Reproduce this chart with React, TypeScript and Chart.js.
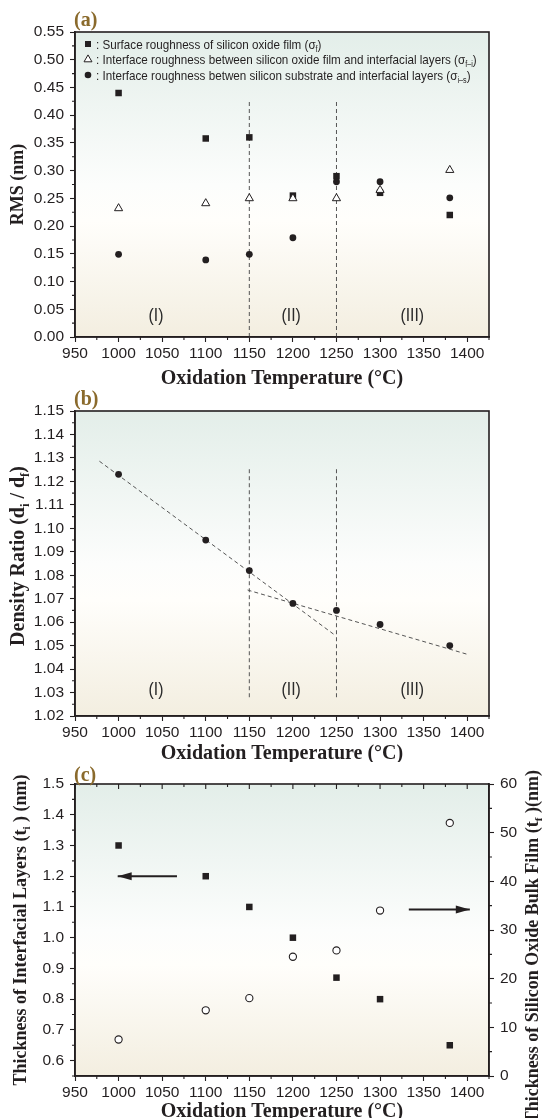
import React, { useEffect, useRef } from 'react';
import { Chart, registerables } from 'chart.js';

Chart.register(...registerables);

// ---------------- data ----------------
const temperatures = [1000, 1100, 1150, 1200, 1250, 1300, 1380];
// panel (a)
const surfaceRoughness = [0.44, 0.358, 0.36, 0.255, 0.29, 0.26, 0.22];
const interfaceRoughnessFI = [0.232, 0.241, 0.25, 0.25, 0.25, 0.265, 0.301];
const interfaceRoughnessIS = [0.149, 0.139, 0.149, 0.179, 0.28, 0.28, 0.251];
// panel (b)
const densityRatio = [1.123, 1.095, 1.082, 1.068, 1.065, 1.059, 1.05];
const fitLowX = [978, 1247];
const fitLowY = [1.1286, 1.0548];
const fitHighX = [1148, 1401];
const fitHighY = [1.0737, 1.0462];
// panel (c)
const interfacialThickness = [1.3, 1.2, 1.1, 1.0, 0.87, 0.8, 0.65];
const bulkThickness = [7.5, 13.5, 16, 24.5, 25.8, 34, 52];
const arrowLeftX = [999, 1067];
const arrowLeftY = 1.2;
const arrowRightX = [1333, 1403];
const arrowRightY = 1.092;
// regions
const regionBoundaries = [1150, 1250];
const boundaryRangeA = [0, 0.425];
const boundaryRangeB = [1.028, 1.126];
const regionNames = ['(I)', '(II)', '(III)'];
const regionCenters = [1043, 1198, 1337];
const regionLabelYA = 0.04;
const regionLabelYB = 1.0315;

type Seg = { t: string; sub?: boolean };
const legendLines: Seg[][] = [
  [{ t: ': Surface roughness of silicon oxide film (σ' }, { t: 'f', sub: true }, { t: ')' }],
  [{ t: ': Interface roughness between silicon oxide film and interfacial layers (σ' }, { t: 'f–i', sub: true }, { t: ')' }],
  [{ t: ': Interface roughness betwen silicon substrate and interfacial layers (σ' }, { t: 'i–s', sub: true }, { t: ')' }],
];
const legendMarkers = ['rect', 'triangle', 'circle'];
const xTitle = 'Oxidation Temperature (°C)';
const yTitleA: Seg[] = [{ t: 'RMS (nm)' }];
const yTitleB: Seg[] = [{ t: 'Density Ratio (d' }, { t: 'i', sub: true }, { t: ' / d' }, { t: 'f', sub: true }, { t: ')' }];
const yTitleC: Seg[] = [{ t: 'Thickness of Interfacial Layers (t' }, { t: 'i', sub: true }, { t: ' ) (nm)' }];
const y2TitleC: Seg[] = [{ t: 'Thickness of Silicon Oxide Bulk Film (t' }, { t: 'f', sub: true }, { t: ' )(nm)' }];

// ---------------- styles ----------------
const INK = '#231f20';
const DASH = '#555555';
const LABEL_BROWN = '#8a6a2c';
const SANS = "'Liberation Sans', Arial, sans-serif";
const SERIF = "'Liberation Serif', 'Times New Roman', serif";
const tickFont = { family: SANS, size: 15.5, lineHeight: 1 };

function drawRich(ctx: CanvasRenderingContext2D, segs: Seg[], x: number, y: number, size: number, family: string, weight: string, align: 'left' | 'center' | 'right', rotation = 0, squeeze = 1, color = INK) {
  ctx.save();
  ctx.translate(x, y);
  ctx.rotate(rotation);
  ctx.scale(squeeze, 1);
  ctx.fillStyle = color;
  ctx.textBaseline = 'alphabetic';
  ctx.textAlign = 'left';
  const subSize = size * 0.62;
  const widths = segs.map((s) => {
    ctx.font = `${weight} ${s.sub ? subSize : size}px ${family}`;
    return ctx.measureText(s.t).width;
  });
  const total = widths.reduce((a, b) => a + b, 0);
  let cx = align === 'left' ? 0 : align === 'center' ? -total / 2 : -total;
  const base = size * 0.34;
  segs.forEach((s, i) => {
    ctx.font = `${weight} ${s.sub ? subSize : size}px ${family}`;
    ctx.fillText(s.t, cx, base + (s.sub ? size * 0.24 : 0));
    cx += widths[i];
  });
  ctx.restore();
}

function minorValues(scale: any): number[] {
  const vals: number[] = scale.ticks.map((t: any) => t.value);
  const out: number[] = [];
  for (let i = 0; i < vals.length - 1; i++) out.push((vals[i] + vals[i + 1]) / 2);
  const step = vals[1] - vals[0];
  const before = vals[0] - step / 2;
  if (before >= scale.min - 1e-9) out.push(before);
  const after = vals[vals.length - 1] + step / 2;
  if (after <= scale.max + 1e-9) out.push(after);
  return out;
}

function drawMarker(ctx: CanvasRenderingContext2D, style: string, x: number, y: number) {
  ctx.save();
  ctx.fillStyle = INK;
  ctx.strokeStyle = INK;
  ctx.lineWidth = 1;
  if (style === 'rect') {
    ctx.fillRect(x - 3, y - 3, 6, 6);
  } else if (style === 'triangle') {
    const r = 4.6;
    ctx.beginPath();
    ctx.moveTo(x, y - r);
    ctx.lineTo(x + r * 0.866, y + r * 0.5);
    ctx.lineTo(x - r * 0.866, y + r * 0.5);
    ctx.closePath();
    ctx.fillStyle = '#fff';
    ctx.fill();
    ctx.stroke();
  } else {
    ctx.beginPath();
    ctx.arc(x, y, 3.3, 0, Math.PI * 2);
    ctx.fill();
  }
  ctx.restore();
}

type Decor = {
  label: string;
  labelLift: number;
  yTitle: Seg[];
  yTitleSize: number;
  yTitleX: number;
  yTitleCenter?: number;
  y2Title?: Seg[];
  regionY?: number;
  legend?: boolean;
  arrows?: boolean;
  topTicks?: boolean;
};

function decorPlugin(d: Decor) {
  return {
    id: 'decor',
    beforeDraw(chart: any) {
      const { ctx, chartArea: a } = chart;
      const g = ctx.createLinearGradient(0, a.top, 0, a.bottom);
      g.addColorStop(0, '#e3eee9');
      g.addColorStop(0.5, '#fcfdfc');
      g.addColorStop(0.62, '#fffefb');
      g.addColorStop(1, '#f3eee0');
      ctx.save();
      ctx.fillStyle = g;
      ctx.fillRect(a.left, a.top, a.right - a.left, a.bottom - a.top);
      ctx.restore();
    },
    afterDraw(chart: any) {
      const { ctx, chartArea: a, scales } = chart;
      const xs = scales.x;
      const ys = scales.y;
      ctx.save();
      // minor ticks
      ctx.strokeStyle = INK;
      ctx.lineWidth = 1.1;
      ctx.beginPath();
      minorValues(xs).forEach((v) => {
        const px = xs.getPixelForValue(v);
        ctx.moveTo(px, a.bottom);
        ctx.lineTo(px, a.bottom + 3);
        if (d.topTicks) {
          ctx.moveTo(px, a.top);
          ctx.lineTo(px, a.top + 3);
        }
      });
      if (d.topTicks) {
        xs.ticks.forEach((t: any) => {
          const px = xs.getPixelForValue(t.value);
          ctx.moveTo(px, a.top);
          ctx.lineTo(px, a.top + 5);
        });
      }
      minorValues(ys).forEach((v) => {
        const py = ys.getPixelForValue(v);
        ctx.moveTo(a.left, py);
        ctx.lineTo(a.left - 3, py);
      });
      if (scales.y2) {
        minorValues(scales.y2).forEach((v) => {
          const py = scales.y2.getPixelForValue(v);
          ctx.moveTo(a.right, py);
          ctx.lineTo(a.right + 3, py);
        });
      }
      ctx.stroke();
      // frame
      ctx.lineWidth = 1.6;
      ctx.strokeRect(a.left, a.top, a.right - a.left, a.bottom - a.top);
      ctx.restore();

      // panel label
      ctx.save();
      ctx.font = `bold 20px ${SERIF}`;
      ctx.fillStyle = LABEL_BROWN;
      ctx.textBaseline = 'alphabetic';
      ctx.textAlign = 'left';
      ctx.fillText(d.label, a.left - 1, a.top - d.labelLift);
      ctx.restore();

      // y titles
      const cy = d.yTitleCenter !== undefined ? d.yTitleCenter : (a.top + a.bottom) / 2;
      drawRich(ctx, d.yTitle, d.yTitleX, cy, d.yTitleSize, SERIF, 'bold', 'center', -Math.PI / 2);
      if (d.y2Title) {
        drawRich(ctx, d.y2Title, 532, a.top - 14, d.yTitleSize, SERIF, 'bold', 'right', -Math.PI / 2);
      }

      // region labels
      if (d.regionY !== undefined) {
        regionNames.forEach((n, i) => {
          drawRich(ctx, [{ t: n }], xs.getPixelForValue(regionCenters[i]), ys.getPixelForValue(d.regionY as number) + 0.5, 17.5, SANS, 'normal', 'center', 0, 0.9, '#2b2b2b');
        });
      }

      // legend
      if (d.legend) {
        legendLines.forEach((segs, i) => {
          const ry = a.top + 12 + i * 15.5;
          drawMarker(ctx, legendMarkers[i], a.left + 13, ry);
          drawRich(ctx, segs, a.left + 21, ry, 13.4, SANS, 'normal', 'left', 0, 0.87);
        });
      }

      // arrowheads
      if (d.arrows) {
        const head = (tipX: number, tipY: number, dir: number) => {
          ctx.save();
          ctx.fillStyle = INK;
          ctx.beginPath();
          ctx.moveTo(tipX, tipY);
          ctx.lineTo(tipX - dir * 14, tipY - 4);
          ctx.lineTo(tipX - dir * 14, tipY + 4);
          ctx.closePath();
          ctx.fill();
          ctx.restore();
        };
        head(xs.getPixelForValue(arrowLeftX[0]), ys.getPixelForValue(arrowLeftY), -1);
        head(xs.getPixelForValue(arrowRightX[1]), ys.getPixelForValue(arrowRightY), 1);
      }
    },
  };
}

function xScale(height: number, titlePad: number) {
  return {
    type: 'linear',
    position: 'bottom',
    min: 950,
    max: 1425,
    ticks: {
      stepSize: 50,
      includeBounds: false,
      autoSkip: false,
      maxRotation: 0,
      padding: 4,
      font: tickFont,
      color: INK,
      callback: (v: any) => String(v),
    },
    grid: { drawOnChartArea: false, drawTicks: true, tickLength: 5, tickColor: INK, tickWidth: 1.1 },
    border: { display: true, color: INK, width: 1.6 },
    title: {
      display: true,
      text: xTitle,
      color: INK,
      font: { family: SERIF, size: 20, weight: 'bold', lineHeight: 1 },
      padding: { top: 0, bottom: titlePad },
    },
    afterFit: (s: any) => {
      s.height = height;
    },
  };
}

function yScale(min: number, max: number, step: number, digits: number, position = 'left', width = 75) {
  return {
    type: 'linear',
    position,
    min,
    max,
    ticks: {
      stepSize: step,
      includeBounds: false,
      autoSkip: false,
      padding: 6,
      font: tickFont,
      color: INK,
      callback: (v: any) => Number(v).toFixed(digits),
    },
    grid: { drawOnChartArea: false, drawTicks: true, tickLength: 5, tickColor: INK, tickWidth: 1.1 },
    border: { display: true, color: INK, width: 1.6 },
    afterFit: (s: any) => {
      s.width = width;
    },
  };
}

const pts = (xs: number[], ys: number[]) => xs.map((x, i) => ({ x, y: ys[i] }));

function boundaryDatasets(range: number[]) {
  return regionBoundaries.map((b) => ({
    data: pts([b, b], range),
    showLine: true,
    borderColor: DASH,
    borderWidth: 1,
    borderDash: [4, 3],
    pointRadius: 0,
  }));
}

function baseOptions(padTop: number, padRight: number) {
  return {
    responsive: false,
    animation: false,
    layout: { padding: { top: padTop, right: padRight, left: 0, bottom: 0 } },
    plugins: { legend: { display: false }, tooltip: { enabled: false } },
  };
}

function buildA(): any {
  return {
    type: 'scatter',
    data: {
      datasets: [
        { data: pts(temperatures, interfaceRoughnessIS), pointStyle: 'circle', pointRadius: 3.4, backgroundColor: INK, borderColor: INK, borderWidth: 0 },
        { data: pts(temperatures, interfaceRoughnessFI), pointStyle: 'triangle', pointRadius: 4.7, backgroundColor: '#ffffff', borderColor: INK, borderWidth: 1 },
        { data: pts(temperatures, surfaceRoughness), pointStyle: 'rect', pointRadius: 4.6, backgroundColor: INK, borderColor: INK, borderWidth: 0 },
        ...boundaryDatasets(boundaryRangeA),
      ],
    },
    options: {
      ...baseOptions(32, 53),
      scales: { x: xScale(53, 1), y: yScale(0, 0.55, 0.05, 2) },
    },
    plugins: [decorPlugin({ label: '(a)', labelLift: 6, yTitle: yTitleA, yTitleSize: 18, yTitleX: 17, regionY: regionLabelYA, legend: true })],
  };
}

function buildB(): any {
  return {
    type: 'scatter',
    data: {
      datasets: [
        { data: pts(temperatures, densityRatio), pointStyle: 'circle', pointRadius: 3.4, backgroundColor: INK, borderColor: INK, borderWidth: 0 },
        { data: pts(fitLowX, fitLowY), showLine: true, borderColor: DASH, borderWidth: 1, borderDash: [4, 3], pointRadius: 0 },
        { data: pts(fitHighX, fitHighY), showLine: true, borderColor: DASH, borderWidth: 1, borderDash: [4, 3], pointRadius: 0 },
        ...boundaryDatasets(boundaryRangeB),
      ],
    },
    options: {
      ...baseOptions(21, 53),
      scales: { x: xScale(46, -2), y: yScale(1.02, 1.15, 0.01, 2) },
    },
    plugins: [decorPlugin({ label: '(b)', labelLift: 6, yTitle: yTitleB, yTitleSize: 20, yTitleX: 17, yTitleCenter: 166, regionY: regionLabelYB })],
  };
}

function buildC(): any {
  return {
    type: 'scatter',
    data: {
      datasets: [
        { data: pts(temperatures, interfacialThickness), yAxisID: 'y', pointStyle: 'rect', pointRadius: 4.6, backgroundColor: INK, borderColor: INK, borderWidth: 0 },
        { data: pts(temperatures, bulkThickness), yAxisID: 'y2', pointStyle: 'circle', pointRadius: 3.6, backgroundColor: '#ffffff', borderColor: INK, borderWidth: 1.1 },
        { data: pts(arrowLeftX, [arrowLeftY, arrowLeftY]), yAxisID: 'y', showLine: true, borderColor: INK, borderWidth: 2, pointRadius: 0 },
        { data: pts(arrowRightX, [arrowRightY, arrowRightY]), yAxisID: 'y', showLine: true, borderColor: INK, borderWidth: 2, pointRadius: 0 },
      ],
    },
    options: {
      ...baseOptions(24, 0),
      scales: {
        x: xScale(42, -4),
        y: yScale(0.55, 1.5, 0.1, 1),
        y2: yScale(0, 60, 10, 0, 'right', 53),
      },
    },
    plugins: [decorPlugin({ label: '(c)', labelLift: 3, yTitle: yTitleC, yTitleSize: 18, yTitleX: 20, y2Title: y2TitleC, arrows: true, topTicks: true })],
  };
}

export default function App() {
  const refA = useRef<HTMLCanvasElement>(null);
  const refB = useRef<HTMLCanvasElement>(null);
  const refC = useRef<HTMLCanvasElement>(null);
  useEffect(() => {
    const charts = [
      new Chart(refA.current as HTMLCanvasElement, buildA()),
      new Chart(refB.current as HTMLCanvasElement, buildB()),
      new Chart(refC.current as HTMLCanvasElement, buildC()),
    ];
    return () => charts.forEach((c) => c.destroy());
  }, []);
  return (
    <div style={{ position: 'absolute', left: 0, top: 0, width: 542, height: 1118, background: '#ffffff', overflow: 'hidden' }}>
      <canvas ref={refA} width={542} height={390} style={{ position: 'absolute', left: 0, top: 0 }} />
      <canvas ref={refB} width={542} height={372} style={{ position: 'absolute', left: 0, top: 390 }} />
      <canvas ref={refC} width={542} height={358} style={{ position: 'absolute', left: 0, top: 760 }} />
    </div>
  );
}
